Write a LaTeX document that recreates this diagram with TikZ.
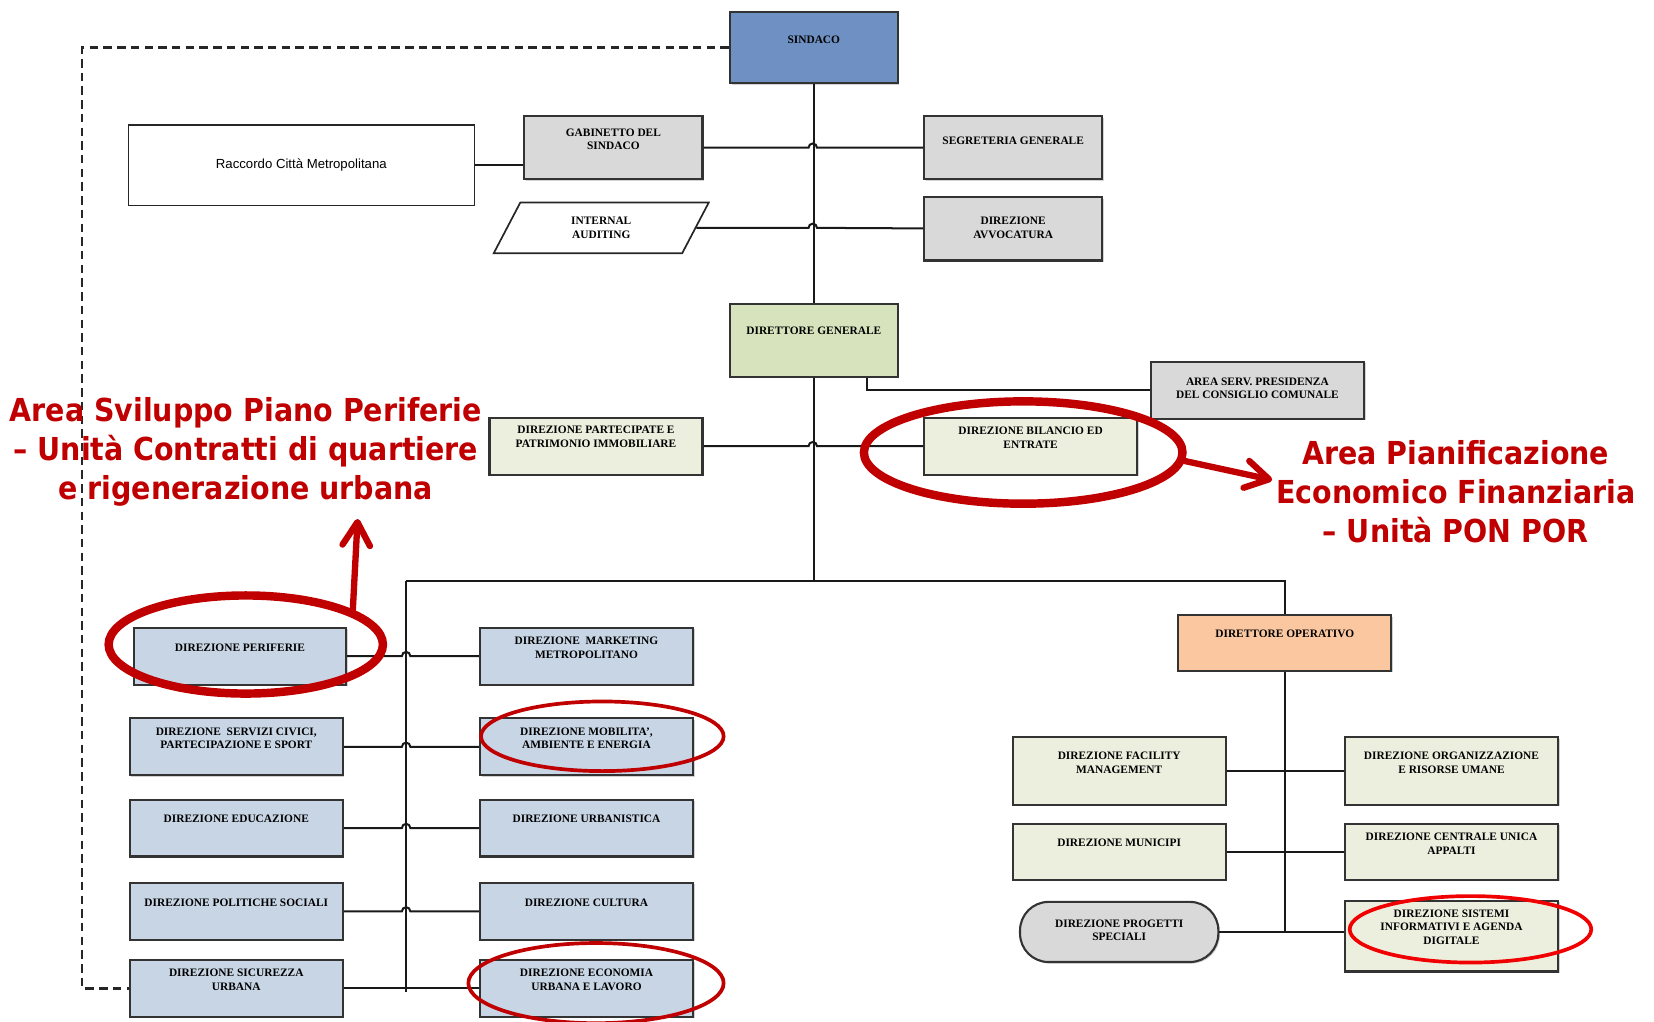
\documentclass[tikz,border=0pt]{standalone}
\usepackage{fontspec}
\setmainfont{Liberation Serif}
\newfontfamily\notefont{DejaVu Sans}[FakeStretch=0.9]
\newfontfamily\plainsans{Liberation Sans}
\usetikzlibrary{arrows.meta}
\usetikzlibrary{calc}
\usetikzlibrary{positioning}
\usetikzlibrary{shapes.geometric}
\usetikzlibrary{shadows}
\definecolor{sindacoblue}{RGB}{110,144,194}
\definecolor{staffgray}{RGB}{217,217,217}
\definecolor{dggreen}{RGB}{214,227,188}
\definecolor{paleolive}{RGB}{237,239,222}
\definecolor{paleblue}{RGB}{199,213,229}
\definecolor{peach}{RGB}{250,199,160}
\definecolor{markred}{RGB}{192,0,0}
\definecolor{brightred}{RGB}{240,0,0}
\newcommand\unitfont{\fontsize{10.8}{12.8}\selectfont\bfseries}
\tikzset{orgbox/.style = {draw = black!80, line width = 2pt, anchor = north west, inner sep = 0pt,
    minimum width = 202pt, minimum height = 54pt,
    drop shadow = {shadow xshift = 1.5pt, shadow yshift = -1.5pt, fill = black!35}}}
\tikzset{boxtext/.style = {font = \unitfont, align = center, anchor = center, inner sep = 0pt, yshift = -#1},
  boxtext/.default = 20pt}
\tikzset{wire/.style = {line width = 1.9pt, black!90}}
\tikzset{dashwire/.style = {line width = 2.1pt, black!85, dash pattern = on 8pt off 5pt}}
\tikzset{hopwire/.style = {to path = {-- ($(\tikztostart -| #1)+(-4,0)$) arc[start angle = 180, end angle = 0, radius = 4pt] -- (\tikztotarget)}}}
\tikzset{ring/.style = {ellipse, draw = markred, line width = 8pt, inner sep = 0pt}}
\tikzset{thinring/.style = {ellipse, draw = markred, line width = 3.5pt, inner sep = 0pt}}
\tikzset{note/.style = {font = {\notefont\fontsize{30}{37}\selectfont\bfseries}, text = markred, align = center, inner sep = 0pt}}
\tikzset{pointer/.style = {markred, line width = 6pt, line cap = round, -{Straight Barb[round, length = 22pt, width = 26pt]}}}

\begin{document}
\begin{tikzpicture}[x = 1pt, y = -1pt]

      \path[fill = white, use as bounding box] (0, 0) rectangle (1568, 968);

      % top of the chart
      \node [orgbox, fill = sindacoblue, minimum width = 159pt, minimum height = 68pt, label = {[boxtext = 28pt]north:SINDACO}] (sindaco) at (691, 10) {};
      \node [orgbox, fill = staffgray, minimum width = 169pt, minimum height = 60pt, label = {[boxtext = 23pt]north:{GABINETTO DEL\\SINDACO}}] (gab) at (496, 109) {};
      \node [orgbox, fill = staffgray, minimum width = 169pt, minimum height = 60pt, label = {[boxtext = 24pt]north:SEGRETERIA GENERALE}] (seg) at (875, 109) {};
      \node [orgbox, fill = staffgray, minimum width = 169pt, minimum height = 60pt, label = {[boxtext = 30pt]north:{DIREZIONE\\AVVOCATURA}}] (avv) at (875, 186) {};
      \node [draw = black!85, line width = 1.3pt, fill = white, anchor = north west, minimum width = 328pt, minimum height = 76pt,
        font = \plainsans\fontsize{12.5}{14}\selectfont] (racc) at (121, 118) {Raccordo Città Metropolitana};
      \node [trapezium, trapezium left angle = 65, trapezium right angle = 115, trapezium stretches = true, draw = black!85, line width = 1.6pt,
        fill = white, minimum width = 204pt, minimum height = 48pt, inner sep = 0pt, font = \unitfont, align = center] (audit) at (570, 216) {INTERNAL\\AUDITING};

      % direttore generale
      \node [orgbox, fill = dggreen, minimum width = 159pt, minimum height = 69pt, label = {[boxtext = 27pt]north:DIRETTORE GENERALE}] (dg) at (691, 287) {};
      \node [orgbox, fill = staffgray, label = {[boxtext = 26pt]north:{AREA SERV. PRESIDENZA\\DEL CONSIGLIO COMUNALE}}] (presid) at (1090, 342) {};
      \node [orgbox, fill = paleolive, label = {[boxtext = 19pt]north:{DIREZIONE PARTECIPATE E\\PATRIMONIO IMMOBILIARE}}] (partec) at (463, 395) {};
      \node [orgbox, fill = paleolive, label = {[boxtext]north:{DIREZIONE BILANCIO ED\\ENTRATE}}] (bilancio) at (875, 395) {};
      \node [orgbox, fill = peach, minimum height = 53pt, label = {[boxtext = 19pt]north:DIRETTORE OPERATIVO}] (dirop) at (1116, 582) {};

      % direzioni, left block
      \node [orgbox, fill = paleblue, minimum width = 201pt, label = {[boxtext]north:DIREZIONE PERIFERIE}] (periferie) at (126, 594) {};
      \node [orgbox, fill = paleblue, label = {[boxtext]north:{DIREZIONE\ \ SERVIZI CIVICI,\\PARTECIPAZIONE E SPORT}}] (civici) at (122, 680) {};
      \node [orgbox, fill = paleblue, label = {[boxtext = 19pt]north:DIREZIONE EDUCAZIONE}] (educazione) at (122, 757) {};
      \node [orgbox, fill = paleblue, label = {[boxtext]north:DIREZIONE POLITICHE SOCIALI}] (politiche) at (122, 836) {};
      \node [orgbox, fill = paleblue, label = {[boxtext]north:{DIREZIONE SICUREZZA\\URBANA}}] (sicurezza) at (122, 909) {};
      \node [orgbox, fill = paleblue, label = {[boxtext]north:{DIREZIONE\ \ MARKETING\\METROPOLITANO}}] (marketing) at (454, 594) {};
      \node [orgbox, fill = paleblue, label = {[boxtext]north:{DIREZIONE MOBILITA',\\AMBIENTE E ENERGIA}}] (mobilita) at (454, 680) {};
      \node [orgbox, fill = paleblue, label = {[boxtext = 19pt]north:DIREZIONE URBANISTICA}] (urbanistica) at (454, 757) {};
      \node [orgbox, fill = paleblue, label = {[boxtext]north:DIREZIONE CULTURA}] (cultura) at (454, 836) {};
      \node [orgbox, fill = paleblue, label = {[boxtext]north:{DIREZIONE ECONOMIA\\URBANA E LAVORO}}] (economia) at (454, 909) {};

      % direzioni under the direttore operativo
      \node [orgbox, fill = paleolive, minimum height = 64pt, label = {[boxtext = 25pt]north:{DIREZIONE FACILITY\\MANAGEMENT}}] (facility) at (959, 698) {};
      \node [orgbox, fill = paleolive, minimum height = 64pt, label = {[boxtext = 25pt]north:{DIREZIONE ORGANIZZAZIONE\\E RISORSE UMANE}}] (organizz) at (1274, 698) {};
      \node [orgbox, fill = paleolive, minimum height = 53pt, label = {[boxtext = 19pt]north:DIREZIONE MUNICIPI}] (municipi) at (959, 780) {};
      \node [orgbox, fill = paleolive, minimum height = 53pt, label = {[boxtext = 20pt]north:{DIREZIONE CENTRALE UNICA\\APPALTI}}] (appalti) at (1274, 780) {};
      \node [orgbox, fill = staffgray, rounded corners = 27pt, minimum width = 188pt, minimum height = 57pt, label = {[boxtext = 28pt]north:{DIREZIONE PROGETTI\\SPECIALI}}] (progetti) at (966, 854) {};
      \node [orgbox, fill = paleolive, minimum height = 67pt, label = {[boxtext = 26pt]north:{DIREZIONE SISTEMI\\INFORMATIVI E AGENDA\\DIGITALE}}] (sistemi) at (1274, 853) {};

      \coordinate (spine) at (770.5, 0);
      \coordinate (lspine) at (385, 0);
      \coordinate (busleft) at (385, 551);
      \coordinate (busend) at (385, 940);
      \coordinate (dashx) at (78, 0);

      \draw [wire] (sindaco) -- (dg);
      \draw [wire] (dg.south) -- (dg.south |- busleft);
      \draw [wire] (busleft) -| (dirop.north);
      \draw [wire] (busleft) -- (busend);
      \draw [wire] (dirop.south) -- (dirop.south |- progetti.east);
      \draw [wire] (racc.east) -- (racc.east -| gab.west);
      \draw [wire] (gab) to [hopwire = spine] (seg);
      \draw [wire] (audit) to [hopwire = spine] (avv);
      \draw [wire] (partec) to [hopwire = spine] (bilancio);
      \draw [wire] ($(dg.south east)+(-30, 0)$) |- (presid.west);
      \draw [wire] (periferie) to [hopwire = lspine] (marketing);
      \draw [wire] (civici) to [hopwire = lspine] (mobilita);
      \draw [wire] (educazione) to [hopwire = lspine] (urbanistica);
      \draw [wire] (politiche) to [hopwire = lspine] (cultura);
      \draw [wire] (sicurezza) -- (economia);
      \draw [wire] (facility) -- (organizz);
      \draw [wire] (municipi) -- (appalti);
      \draw [wire] (progetti.east) -- (progetti.east -| sistemi.west);
      \draw [dashwire] (sindaco.west) -- (sindaco.west -| dashx) |- (sicurezza.west);

      % red marks
      \node [ring, minimum width = 260pt, minimum height = 93pt] (perifring) at (233, 611) {};
      \node [ring, minimum width = 302pt, minimum height = 97pt] (bilring) at (970, 429) {};
      \node [thinring, minimum width = 230pt, minimum height = 66pt] (mobring) at (571, 698) {};
      \node [thinring, minimum width = 242pt, minimum height = 76pt] (ecoring) at (565, 932) {};
      \node [thinring, draw = brightred, minimum width = 229pt, minimum height = 63pt] (sisring) at (1394, 881) {};

      \node [note] (leftnote) at (233, 428) {Area Sviluppo Piano Periferie\\– Unità Contratti di quartiere\\e rigenerazione urbana};
      \node [note] (rightnote) at (1380, 466) {Area Pianificazione\\Economico Finanziaria\\– Unità PON POR};

      \coordinate (uptip) at (339, 492);
      \coordinate (righttip) at (1206, 455);
      \draw [pointer] (perifring.18) -- (uptip);
      \draw [pointer] (bilring.-3) -- (righttip);
    \end{tikzpicture}
\end{document}
